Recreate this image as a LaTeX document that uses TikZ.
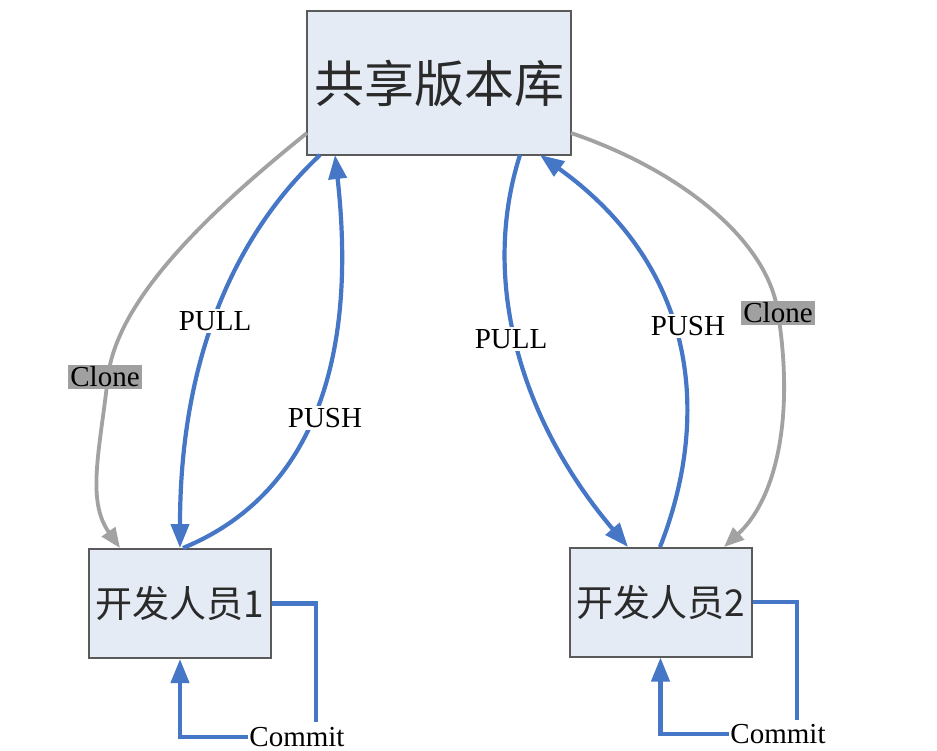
\documentclass[tikz,border=0pt]{standalone}
\usepackage{fontspec}
\setmainfont{Liberation Serif}
\newfontfamily\cjk{Noto Sans CJK SC}
\usetikzlibrary{arrows.meta}
\definecolor{boxfill}{HTML}{E5EBF5}
\definecolor{boxline}{HTML}{5A5A5A}
\definecolor{boxtext}{HTML}{2A2A2A}
\definecolor{linkblue}{HTML}{4677C6}
\definecolor{linkgray}{HTML}{A2A2A2}
\definecolor{labgray}{HTML}{A0A0A0}
\tikzset{
  repobox/.style={draw=boxline, line width=2pt, fill=boxfill, text=boxtext, minimum width=264pt, minimum height=144pt, inner sep=0pt, font=\cjk\fontsize{50}{60}\selectfont},
  devbox/.style={draw=boxline, line width=2pt, fill=boxfill, text=boxtext, minimum width=182pt, minimum height=109pt, inner sep=0pt, font=\cjk\fontsize{37}{44}\selectfont},
  blueline/.style={draw=linkblue, line width=4.2pt},
  grayline/.style={draw=linkgray, line width=3.8pt},
  bluetip/.style={-{Triangle[length=24pt,width=18pt]}},
  graytip/.style={-{Triangle[length=20pt,width=16pt]}},
  wlabel/.style={fill=white, inner sep=2pt, font=\fontsize{29}{34}\selectfont},
  glabel/.style={fill=labgray, inner sep=2pt, font=\fontsize{29}{34}\selectfont},
  clabel/.style={inner sep=1pt, font=\fontsize{29}{34}\selectfont},
}
\begin{document}
\begin{tikzpicture}[x=1pt, y=-1pt]
\useasboundingbox (0,0) rectangle (937,751);
\fill[white] (0,0) rectangle (937,751);

\node[repobox] (T) at (439,83) {共享版本库};
\node[devbox] (L) at (180,603.5) {开发人员1};
\node[devbox] (R) at (660.5,602) {开发人员2};

% anchor coordinates on the boxes
\coordinate (TcL) at (307,133);
\coordinate (TpullL) at (320,155);
\coordinate (TpushL) at (335,155);
\coordinate (TpullR) at (520,155);
\coordinate (TpushR) at (540,155);
\coordinate (TcR) at (571,133);
\coordinate (LcIn) at (120,548);
\coordinate (LpIn) at (180,548);
\coordinate (LpOut) at (183,548);
\coordinate (RpIn) at (628,547);
\coordinate (RpOut) at (660,547);
\coordinate (RcIn) at (724,547);

% Clone left
\draw[grayline, graytip] (TcL) .. controls (205,215) and (118,300) .. (108,376)
  .. controls (100,450) and (86,500) .. (LcIn);
% Clone right
\draw[grayline, graytip] (TcR) .. controls (680,170) and (768,240) .. (778,313)
  .. controls (795,420) and (775,500) .. (RcIn);
% PULL left
\draw[blueline, bluetip] (TpullL) .. controls (240,230) and (180,350) .. (LpIn);
% PUSH left
\draw[blueline, bluetip] (LpOut) .. controls (300,500) and (360,380) .. (TpushL);
% PULL right
\draw[blueline, bluetip] (TpullR) .. controls (480,280) and (520,420) .. (RpIn);
% PUSH right
\draw[blueline, bluetip] (RpOut) .. controls (710,420) and (700,270) .. (TpushR);

\node[wlabel] (pullL) at (215,321) {PULL};
\node[wlabel] (pushL) at (325,418) {PUSH};
\node[wlabel] (pullR) at (511,339) {PULL};
\node[wlabel] (pushR) at (688,326) {PUSH};
\node[glabel] (cloneL) at (105,377) {Clone};
\node[glabel] (cloneR) at (778,313) {Clone};

% Commit loops
\node[clabel] (cL) at (297,737) {Commit};
\node[clabel] (cR) at (778,734) {Commit};
\coordinate (kL) at (316,722);
\coordinate (kR) at (797,720);
\draw[blueline] (L.east) -| (kL);
\draw[blueline, bluetip] (cL.west) -| (L.south);
\draw[blueline] (R.east) -| (kR);
\draw[blueline, bluetip] (cR.west) -| (R.south);
\end{tikzpicture}
\end{document}
